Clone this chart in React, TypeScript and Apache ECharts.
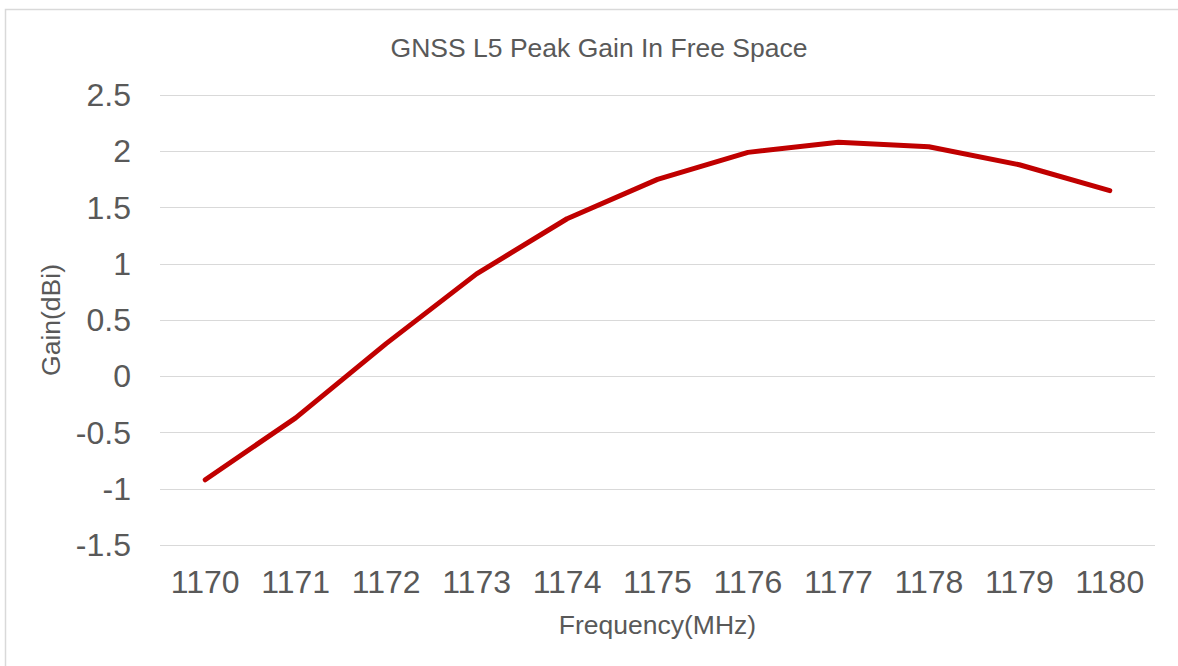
import React, { useEffect, useRef } from "react";
import * as echarts from "echarts";

const categories = ["1170", "1171", "1172", "1173", "1174", "1175", "1176", "1177", "1178", "1179", "1180"];
const gainValues = [-0.92, -0.37, 0.29, 0.91, 1.4, 1.75, 1.99, 2.08, 2.04, 1.88, 1.65];
const chartTitle = "GNSS L5 Peak Gain In Free Space";
const xAxisName = "Frequency(MHz)";
const yAxisName = "Gain(dBi)";

export default function App() {
  const ref = useRef<HTMLDivElement>(null);
  useEffect(() => {
    if (!ref.current) return;
    const chart = echarts.init(ref.current, undefined, { renderer: "svg" });
    const font = "Liberation Sans, Arial, sans-serif";
    chart.setOption({
      animation: false,
      backgroundColor: "#ffffff",
      title: {
        text: chartTitle,
        left: 594,
        textAlign: "center",
        top: 29,
        textStyle: { fontFamily: font, fontSize: 26.5, fontWeight: "normal", color: "#595959" },
      },
      graphic: [
        {
          type: "rect",
          shape: { x: 5.5, y: 9.5, width: 1400, height: 900 },
          style: { fill: "none", stroke: "#d9d9d9", lineWidth: 1.5 },
          silent: true,
        },
      ],
      grid: { left: 160, right: 23, top: 95, bottom: 121 },
      xAxis: {
        type: "category",
        data: categories,
        boundaryGap: true,
        name: xAxisName,
        nameLocation: "middle",
        nameGap: 66,
        nameTextStyle: { fontFamily: font, fontSize: 26.5, color: "#595959" },
        axisLine: { show: false },
        axisTick: { show: false },
        axisLabel: { fontFamily: font, fontSize: 32, color: "#595959", margin: 21 },
      },
      yAxis: {
        type: "value",
        min: -1.5,
        max: 2.5,
        interval: 0.5,
        name: yAxisName,
        nameLocation: "middle",
        nameGap: 89,
        nameTextStyle: { fontFamily: font, fontSize: 26.5, color: "#595959" },
        axisLine: { show: false },
        axisTick: { show: false },
        axisLabel: { fontFamily: font, fontSize: 32, color: "#595959", margin: 29 },
        splitLine: { lineStyle: { color: "#d9d9d9", width: 1 } },
      },
      series: [
        {
          type: "line",
          data: gainValues,
          symbol: "none",
          lineStyle: { color: "#c00000", width: 5, cap: "round", join: "round" },
        },
      ],
    });
    return () => chart.dispose();
  }, []);
  return <div ref={ref} style={{ position: "absolute", left: 0, top: 0, width: 1178, height: 666 }} />;
}
